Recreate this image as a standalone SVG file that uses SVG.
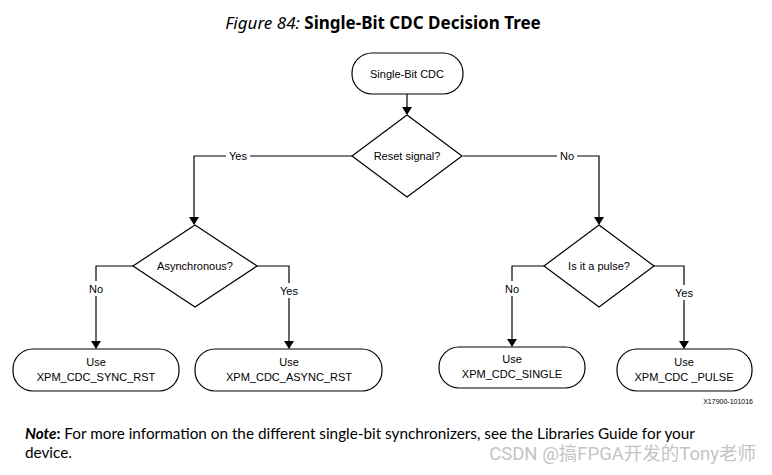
<svg xmlns="http://www.w3.org/2000/svg" width="772" height="475" viewBox="0 0 772 475">
<style>
.shape{fill:#fff;stroke:#000;stroke-width:1.2}
.conn{fill:none;stroke:#000;stroke-width:1.2}
.t{font-family:"Liberation Sans",Arial,sans-serif;font-size:11px;fill:#000;text-anchor:middle}
.lbl{font-family:"Liberation Sans",Arial,sans-serif;font-size:11px;fill:#000;text-anchor:middle}
.bg{fill:#fff}
</style>
<defs>
<marker id="ah" markerWidth="8" markerHeight="10" refX="7" refY="5" orient="auto" markerUnits="userSpaceOnUse" viewBox="0 0 8 10">
<path d="M0,0 L8,5 L0,10 z" fill="#000"/>
</marker>
</defs>
<rect width="772" height="475" fill="#fff"/>
<text x="383" y="29" font-family="'Noto Sans','Open Sans',sans-serif" font-size="17" text-anchor="middle"><tspan font-style="italic">Figure 84:</tspan> <tspan font-weight="bold">Single-Bit CDC Decision Tree</tspan></text>

<g id="connectors">
<path class="conn" d="M407,94 V114" marker-end="url(#ah)"/>
<path class="conn" d="M352,156 H194 V224" marker-end="url(#ah)"/>
<path class="conn" d="M463,156 H599 V224" marker-end="url(#ah)"/>
<path class="conn" d="M133,266 H96 V348" marker-end="url(#ah)"/>
<path class="conn" d="M257,266 H289 V348" marker-end="url(#ah)"/>
<path class="conn" d="M544,266 H512 V346" marker-end="url(#ah)"/>
<path class="conn" d="M654,266 H684 V348" marker-end="url(#ah)"/>
<rect class="bg" x="226" y="149" width="24" height="14"/>
<text class="lbl" x="238" y="160">Yes</text>
<rect class="bg" x="557" y="149" width="20" height="14"/>
<text class="lbl" x="567" y="160">No</text>
<rect class="bg" x="87" y="281" width="18" height="15"/>
<text class="lbl" x="96" y="293">No</text>
<rect class="bg" x="277" y="283" width="24" height="15"/>
<text class="lbl" x="289" y="295">Yes</text>
<rect class="bg" x="503" y="281" width="18" height="15"/>
<text class="lbl" x="512" y="293">No</text>
<rect class="bg" x="672" y="285" width="24" height="15"/>
<text class="lbl" x="684" y="297">Yes</text>
</g>

<g id="start">
<rect class="shape" x="352" y="53" width="111" height="41" rx="20" ry="20"/>
<text class="t" x="407" y="77.5">Single-Bit CDC</text>
</g>
<g id="reset">
<polygon class="shape" points="407,115 462,156 407,197 352,156"/>
<text class="t" x="407" y="160">Reset signal?</text>
</g>
<g id="async">
<polygon class="shape" points="195,225 257,266 195,307 133,266"/>
<text class="t" x="195" y="270">Asynchronous?</text>
</g>
<g id="pulse">
<polygon class="shape" points="599,225 654,266 599,307 544,266"/>
<text class="t" x="599" y="270">Is it a pulse?</text>
</g>
<g id="sync_rst">
<rect class="shape" x="13" y="349" width="166" height="42" rx="20" ry="20"/>
<text class="t" x="96" y="366">Use</text>
<text class="t" x="96" y="381">XPM_CDC_SYNC_RST</text>
</g>
<g id="async_rst">
<rect class="shape" x="195" y="349" width="187" height="42" rx="20" ry="20"/>
<text class="t" x="289" y="366">Use</text>
<text class="t" x="289" y="381">XPM_CDC_ASYNC_RST</text>
</g>
<g id="single">
<rect class="shape" x="439" y="347" width="146" height="41" rx="20" ry="20"/>
<text class="t" x="512" y="363">Use</text>
<text class="t" x="512" y="378">XPM_CDC_SINGLE</text>
</g>
<g id="pulse_box">
<rect class="shape" x="617" y="349" width="135" height="42" rx="20" ry="20"/>
<text class="t" x="684" y="366">Use</text>
<text class="t" x="684" y="381">XPM_CDC _PULSE</text>
</g>

<text x="753" y="404" font-family="'Liberation Sans Narrow','Liberation Sans',Arial,sans-serif" font-size="7" text-anchor="end">X17900-101016</text>
<text x="25" y="439" font-family="Lato,'Liberation Sans',sans-serif" font-size="15.3"><tspan font-weight="bold" font-style="italic">Note</tspan><tspan font-weight="bold">:</tspan> For more information on the different single-bit synchronizers, see the Libraries Guide for your</text>
<text x="25" y="458" font-family="Lato,'Liberation Sans',sans-serif" font-size="15.3">device.</text>
<text x="756" y="460" font-family="Roboto,'Noto Sans CJK SC',sans-serif" font-size="18.5" fill="#c4c4c4" text-anchor="end">CSDN @搞FPGA开发的Tony老师</text>
</svg>
